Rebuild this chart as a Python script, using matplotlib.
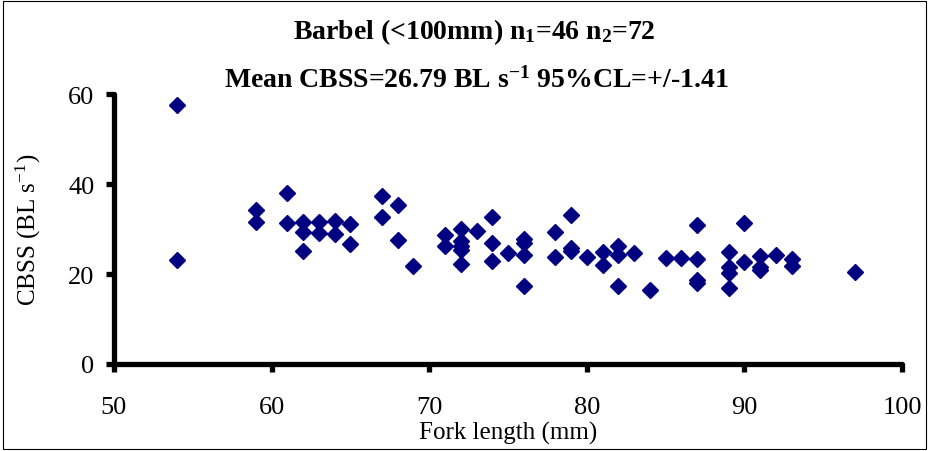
import numpy as np
import matplotlib.pyplot as plt
from matplotlib.patches import Rectangle

plt.rcParams['font.family'] = ['Liberation Serif', 'DejaVu Serif']
plt.rcParams['mathtext.default'] = 'regular'

# fork length (mm) and CBSS (BL s-1)
fork_length = [54, 54, 59, 59, 61, 61, 62, 62, 62, 63, 63, 64, 64, 65, 65,
               67, 67, 68, 68, 69, 71, 71, 72, 72, 72, 72, 72, 73, 74, 74, 74,
               75, 76, 76, 76, 76, 78, 78, 79, 79, 79, 80, 81, 81, 82, 82, 82,
               83, 84, 85, 86, 87, 87, 87, 87, 89, 89, 89, 89, 90, 90, 91, 91,
               91, 92, 93, 93, 97]
cbss = [57.6, 23.1, 34.2, 31.6, 38.1, 31.3, 31.6, 29.3, 25.2, 31.6, 29.1,
        31.9, 29.0, 31.1, 26.7, 37.4, 32.6, 35.4, 27.6, 21.8, 28.7, 26.3,
        30.0, 27.4, 26.3, 25.3, 22.2, 29.6, 32.6, 26.9, 23.0, 24.7, 27.8,
        27.0, 24.2, 17.4, 29.3, 23.9, 33.2, 25.8, 25.2, 23.7, 24.8, 22.1,
        26.3, 24.2, 17.4, 24.7, 16.5, 23.5, 23.6, 31.0, 23.3, 18.7, 18.0,
        24.8, 21.6, 20.3, 16.8, 31.3, 22.7, 24.0, 21.5, 21.0, 24.3, 23.4,
        21.8, 20.4]

fig = plt.figure(figsize=(9.29, 4.52), dpi=100)
ax = fig.add_axes([0.1227, 0.1925, 0.8483, 0.597])

ax.plot(fork_length, cbss, linestyle='none', marker='D', markersize=8,
        color='#000080', clip_on=False)

ax.set_xlim(50, 100)
ax.set_ylim(0, 60)
ax.set_xticks(np.arange(50, 101, 10))
ax.set_yticks(np.arange(0, 61, 20))

for s in ['top', 'right']:
    ax.spines[s].set_visible(False)
for s in ['left', 'bottom']:
    ax.spines[s].set_linewidth(3.8)
    ax.spines[s].set_capstyle('round')
ax.tick_params(width=3.8, length=6, direction='out', labelsize=19,
               color='black')
ax.tick_params(axis='x', pad=17)
ax.tick_params(axis='y', pad=8)
for t in ax.xaxis.get_major_ticks() + ax.yaxis.get_major_ticks():
    t.tick1line.set_solid_capstyle('round')

ax.set_xlabel('Fork length (mm)', fontsize=18)
ax.xaxis.set_label_coords(0.5, -0.212)
ax.set_ylabel('CBSS (BL s$^{-1}$)', fontsize=18)
ax.yaxis.set_label_coords(-0.09, 0.5)

fig.text(0.511, 0.929, 'Barbel (<100mm) n$_1$=46 n$_2$=72', ha='center',
         va='center', fontsize=20, fontweight='bold')
fig.text(0.513, 0.823, 'Mean CBSS=26.79 BL s$^{-1}$ 95%CL=+/-1.41',
         ha='center', va='center', fontsize=20, fontweight='bold')

fig.patches.append(Rectangle((0.003, 0.005), 0.994, 0.99, transform=fig.transFigure,
                             fill=False, edgecolor='black', linewidth=0.8))

fig.savefig('out.png', dpi=100)
